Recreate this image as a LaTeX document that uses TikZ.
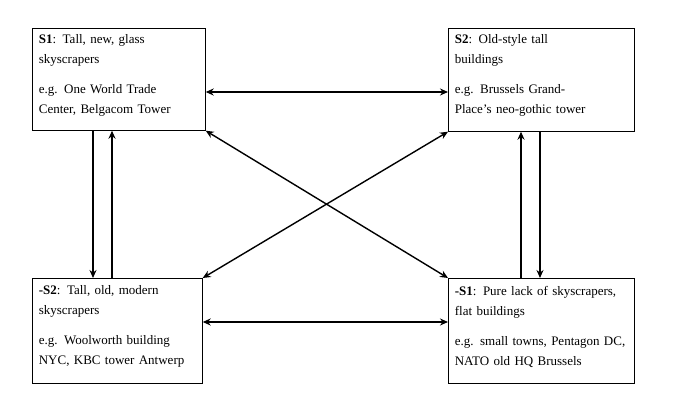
\documentclass[tikz,border=0pt]{standalone}
\usepackage{fontspec}
\setmainfont{Liberation Serif}
\usetikzlibrary{arrows.meta}
\begin{document}
\begin{tikzpicture}[x=1pt,y=-1pt,
 box/.style={draw,line width=0.7pt,anchor=north west,align=left,inner xsep=6pt,inner ysep=0pt,font=\fontsize{13}{20}\selectfont},
 ar/.style={line width=1.4pt,-{Stealth[length=8pt,width=7pt]}},
 dar/.style={line width=1.4pt,{Stealth[length=8pt,width=7pt]}-{Stealth[length=8pt,width=7pt]}}]
\useasboundingbox (0,0) rectangle (686,410);
\node[box,minimum width=173pt,minimum height=102pt,text width=160pt] (s1) at (32,28) {\vbox to 96pt{\vskip3pt\textbf{S1}: Tall, new, glass\\skyscrapers\\[10pt]e.g. One World Trade\\Center, Belgacom Tower\vfil}};
\node[box,minimum width=186pt,minimum height=103pt,text width=173pt] (s2) at (448,28) {\vbox to 96pt{\vskip3pt\textbf{S2}: Old-style tall\\buildings\\[10pt]e.g. Brussels Grand-\\Place's neo-gothic tower\vfil}};
\node[box,minimum width=170pt,minimum height=105pt,text width=157pt] (ns2) at (32,278) {\vbox to 96pt{\vskip3pt\textbf{-S2}: Tall, old, modern\\skyscrapers\\[10pt]e.g. Woolworth building\\NYC, KBC tower Antwerp\vfil}};
\node[box,minimum width=186pt,minimum height=105pt,text width=173pt] (ns1) at (448,278) {\vbox to 96pt{\vskip3pt\textbf{-S1}: Pure lack of skyscrapers,\\flat buildings\\[10pt]e.g. small towns, Pentagon DC,\\NATO old HQ Brussels\vfil}};
\draw[dar] (s1.east|-0,92) -- (s2.west|-0,92);
\draw[dar] (ns2.east|-0,322) -- (ns1.west|-0,322);
\draw[ar] (s1.south-|93,0) -- (ns2.north-|93,0);
\draw[ar] (ns2.north-|112,0) -- (s1.south-|112,0);
\draw[ar] (ns1.north-|521,0) -- (s2.south-|521,0);
\draw[ar] (s2.south-|540,0) -- (ns1.north-|540,0);
\draw[dar] (s1.south east) -- (ns1.north west);
\draw[dar] (s2.south west) -- (ns2.north east);
\end{tikzpicture}
\end{document}
